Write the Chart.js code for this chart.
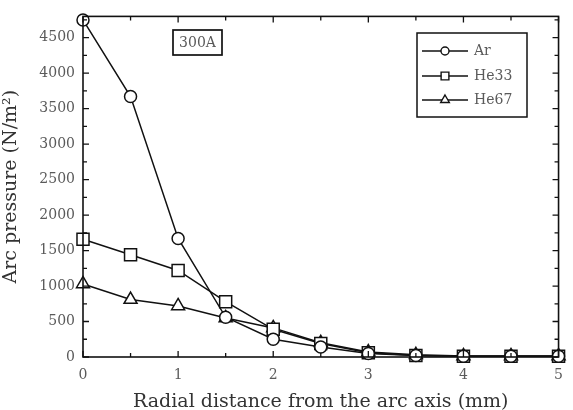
<!DOCTYPE html>
<html>
<head>
<meta charset="utf-8">
<script src="https://cdn.jsdelivr.net/npm/chart.js@4/dist/chart.umd.min.js"></script>
<style>
  html, body { margin: 0; padding: 0; background: #fff; overflow: hidden; }
  #wrap { width: 573px; height: 410px; }
</style>
</head>
<body>
<div id="wrap"><canvas id="arcChart" width="573" height="410"></canvas></div>
<script>
// radial distance (mm)
const distance = [0, 0.5, 1, 1.5, 2, 2.5, 3, 3.5, 4, 4.5, 5];
// arc pressure (N/m^2)
const ar   = [4750, 3670, 1670, 560, 250, 140, 50, 20, 10, 10, 10];
const he33 = [1660, 1440, 1220, 780, 390, 190, 60, 20, 10, 10, 10];
const he67 = [1030, 810, 720, 550, 410, 200, 70, 30, 15, 15, 15];
const yTicks = [0, 500, 1000, 1500, 2000, 2500, 3000, 3500, 4000, 4500];
const xTicks = [0, 1, 2, 3, 4, 5];

const serif = "'DejaVu Serif', 'Liberation Serif', serif";
const textGray = '#5a5a5a';

function pts(vals) {
  return distance.map((d, i) => ({ x: d, y: vals[i] }));
}

// marker radius so the three shapes look about the same size
const markerSize = { circle: 6, rect: 8.5, triangle: 7.5 };

function series(label, vals, shape) {
  return {
    label: label,
    data: pts(vals),
    borderColor: '#111',
    borderWidth: 1.5,
    pointStyle: shape,
    pointRadius: markerSize[shape],
    pointBackgroundColor: '#fff',
    pointBorderColor: '#111',
    pointBorderWidth: 1.5,
    tension: 0,
    fill: false,
    clip: false
  };
}

// frame, inward ticks, legend and the 300A label
const framePlugin = {
  id: 'frame',
  afterDatasetsDraw(chart) {
    const ctx = chart.ctx;
    const a = chart.chartArea;
    const x = chart.scales.x, y = chart.scales.y;
    ctx.save();
    ctx.strokeStyle = '#111';
    ctx.lineWidth = 1.6;
    ctx.strokeRect(a.left, a.top, a.right - a.left, a.bottom - a.top);

    ctx.lineWidth = 1.3;
    ctx.beginPath();
    for (let v = 0; v <= 4800; v += 250) {
      const py = y.getPixelForValue(v);
      const len = v % 500 === 0 ? 6 : 4;
      ctx.moveTo(a.left, py); ctx.lineTo(a.left + len, py);
      ctx.moveTo(a.right, py); ctx.lineTo(a.right - len, py);
    }
    for (let v = 0; v <= 5; v += 0.5) {
      const px = x.getPixelForValue(v);
      const len = v % 1 === 0 ? 6 : 4;
      ctx.moveTo(px, a.bottom); ctx.lineTo(px, a.bottom - len);
      ctx.moveTo(px, a.top); ctx.lineTo(px, a.top + len);
    }
    ctx.stroke();

    // 300A box
    ctx.lineWidth = 1.7;
    ctx.strokeRect(173, 30, 49, 25);
    ctx.fillStyle = textGray;
    ctx.font = '14px ' + serif;
    ctx.textAlign = 'center';
    ctx.textBaseline = 'middle';
    ctx.fillText('300A', 197.5, 43);

    // legend box
    ctx.lineWidth = 1.5;
    ctx.strokeRect(417, 33, 110, 84);
    const rows = [51, 76, 100];
    chart.data.datasets.forEach((ds, i) => {
      const ly = rows[i];
      ctx.strokeStyle = '#111';
      ctx.lineWidth = 1.4;
      ctx.beginPath();
      ctx.moveTo(422, ly); ctx.lineTo(468, ly);
      ctx.stroke();
      ctx.fillStyle = '#fff';
      Chart.helpers.drawPoint(ctx, {
        pointStyle: ds.pointStyle,
        radius: ds.pointStyle === 'circle' ? 4 : (ds.pointStyle === 'rect' ? 5.5 : 5),
        borderWidth: 1.4,
        rotation: 0
      }, 445, ly);
      ctx.fillStyle = textGray;
      ctx.font = '14px ' + serif;
      ctx.textAlign = 'left';
      ctx.textBaseline = 'middle';
      ctx.fillText(ds.label, 474, ly);
    });
    ctx.restore();
  }
};

new Chart(document.getElementById('arcChart').getContext('2d'), {
  type: 'line',
  data: {
    datasets: [
      series('Ar', ar, 'circle'),
      series('He33', he33, 'rect'),
      series('He67', he67, 'triangle')
    ]
  },
  options: {
    responsive: false,
    animation: false,
    layout: { padding: { top: 6, right: 14, left: 0, bottom: 0 } },
    plugins: { legend: { display: false }, tooltip: { enabled: false } },
    scales: {
      x: {
        type: 'linear',
        min: 0,
        max: 5,
        afterFit(s) { s.height = 53; },
        afterBuildTicks(s) { s.ticks = xTicks.map(v => ({ value: v })); },
        grid: { display: false, drawTicks: false },
        border: { display: false },
        ticks: {
          padding: 10,
          color: textGray,
          font: { family: serif, size: 14 },
          maxRotation: 0,
          callback: v => String(v)
        },
        title: {
          display: true,
          text: 'Radial distance from the arc axis (mm)',
          color: '#333',
          font: { family: serif, size: 19 },
          padding: { top: 0, bottom: -3 }
        }
      },
      y: {
        min: 0,
        max: 4800,
        afterFit(s) { s.width = 83; },
        afterBuildTicks(s) { s.ticks = yTicks.map(v => ({ value: v })); },
        grid: { display: false, drawTicks: false },
        border: { display: false },
        ticks: {
          padding: 8,
          color: textGray,
          font: { family: serif, size: 14 },
          callback: v => String(v)
        },
        title: {
          display: true,
          text: 'Arc pressure (N/m²)',
          color: '#333',
          font: { family: serif, size: 19 },
          padding: { top: 0, bottom: 0 }
        }
      }
    }
  },
  plugins: [framePlugin]
});
</script>
</body>
</html>
